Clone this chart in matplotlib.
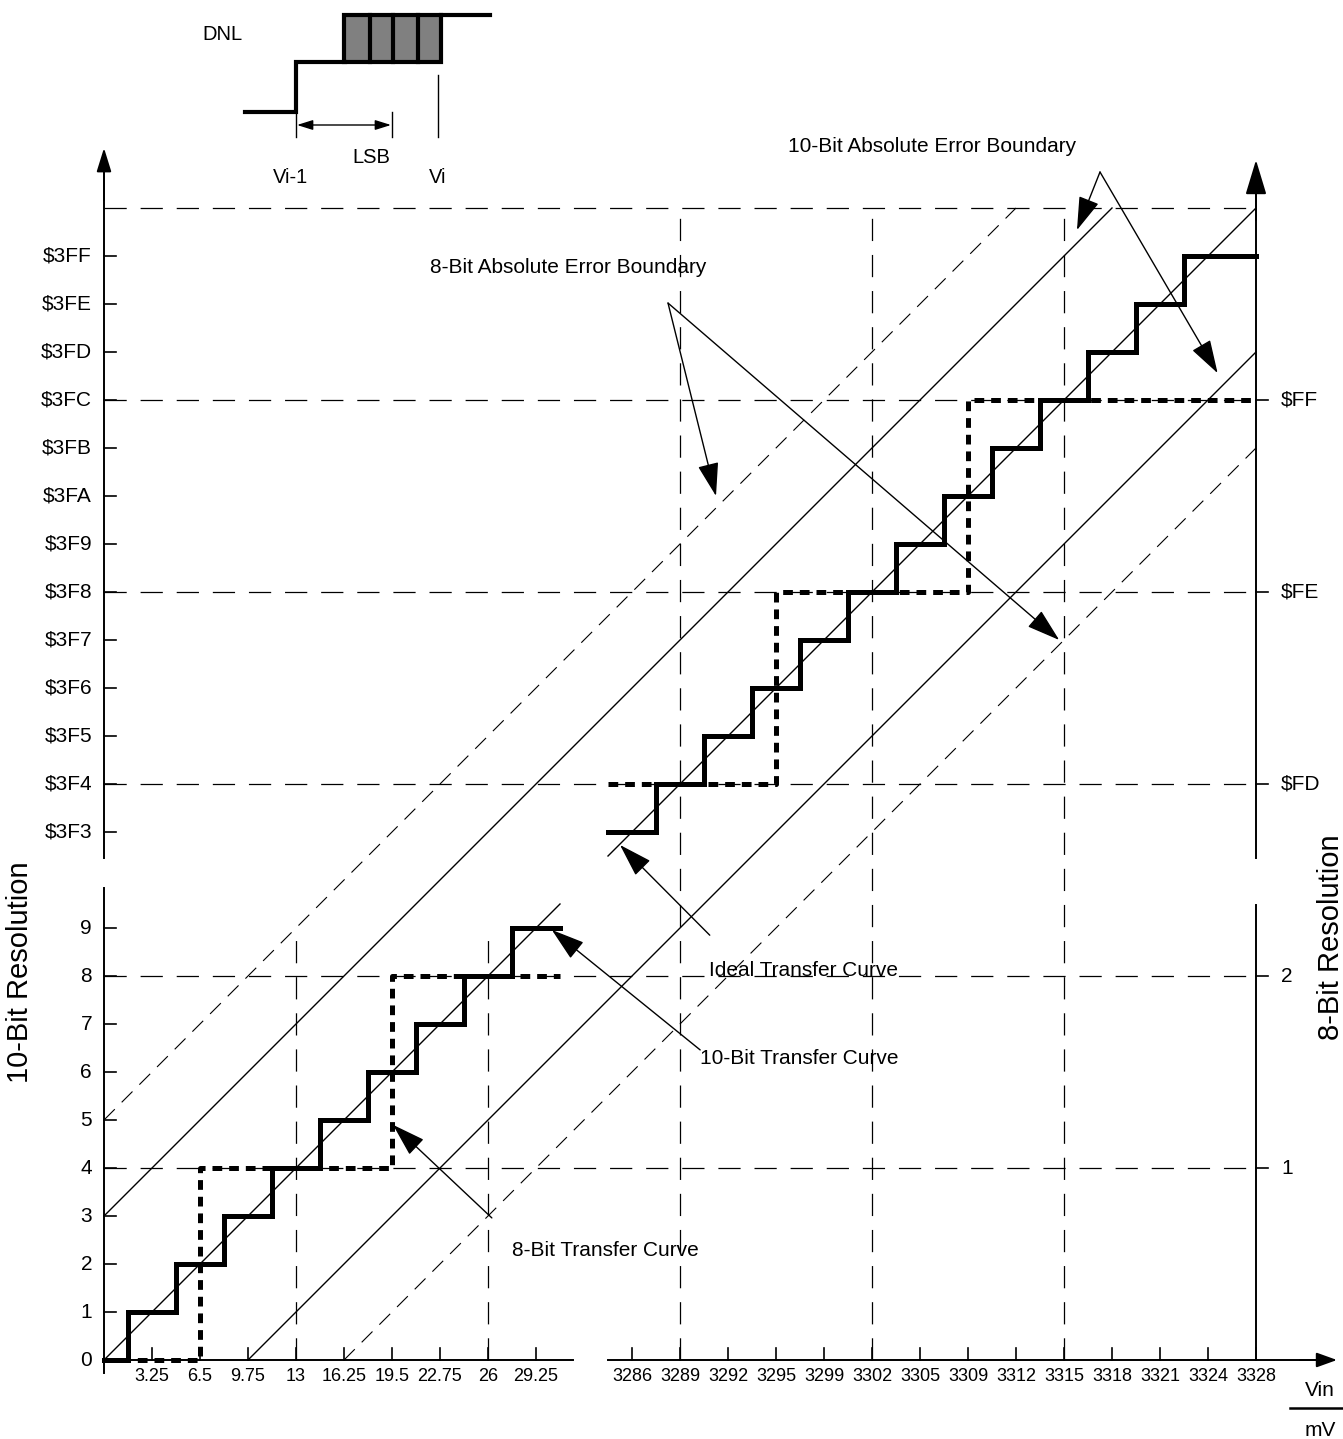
import matplotlib
matplotlib.use("Agg")
import matplotlib.pyplot as plt
from matplotlib.patches import Rectangle

plt.rcParams['font.family'] = ['Liberation Sans', 'DejaVu Sans']
plt.rcParams['lines.scale_dashes'] = False

# ---- data (x in LSB steps, y in 10-bit codes) ----
low_mv = ["3.25", "6.5", "9.75", "13", "16.25", "19.5", "22.75", "26", "29.25"]
high_mv = ["3286", "3289", "3292", "3295", "3299", "3302", "3305", "3309",
           "3312", "3315", "3318", "3321", "3324", "3328"]
low_codes = ["0", "1", "2", "3", "4", "5", "6", "7", "8", "9"]
high_codes = ["$3F3", "$3F4", "$3F5", "$3F6", "$3F7", "$3F8", "$3F9",
              "$3FA", "$3FB", "$3FC", "$3FD", "$3FE", "$3FF"]
low_8bit = ["1", "2"]
high_8bit = ["$FD", "$FE", "$FF"]

# transfer curves: step edges and output codes
tc10_low_edges = [0, 0.5, 1.5, 2.5, 3.5, 4.5, 5.5, 6.5, 7.5, 8.5, 9.5]
tc10_low_codes = [0, 1, 2, 3, 4, 5, 6, 7, 8, 9]
tc10_high_edges = [10.5, 11.5, 12.5, 13.5, 14.5, 15.5, 16.5, 17.5, 18.5,
                   19.5, 20.5, 21.5, 22.5, 24]
tc10_high_codes = [11, 12, 13, 14, 15, 16, 17, 18, 19, 20, 21, 22, 23]
tc8_low_edges = [0, 2, 6, 9.5]
tc8_low_codes = [0, 4, 8]
tc8_high_edges = [10.5, 14, 18, 24]
tc8_high_codes = [12, 16, 20]

err10 = 3   # 10-bit absolute error boundary (LSB)
err8 = 5    # 8-bit absolute error boundary (LSB)

# ---- layout ----
U = 48.0
def P(px, py):
    return ((px - 104) / U, (1360 - py) / U)

fig = plt.figure(figsize=(13.43, 14.39), dpi=100)
ax = fig.add_axes([0, 0, 1, 1])
ax.set_xlim(-104 / U, 1239 / U)
ax.set_ylim(-79 / U, 1360 / U)
ax.axis('off')

FS = 15      # annotations, y tick labels
FSX = 13     # x tick labels
FSL = 21     # axis titles
FSD = 14.5   # DNL inset
K = 'k'
grid_kw = dict(color=K, lw=0.9, dashes=(16, 10))
thin_dash = dict(color=K, lw=0.8, dashes=(11, 7))

low_x = list(range(1, len(low_mv) + 1))
high_x = list(range(11, 11 + len(high_mv)))
low_y = list(range(len(low_codes)))
high_y = list(range(11, 11 + len(high_codes)))
pos8_low = [4, 8]
pos8_high = [12, 16, 20]
top = 24

# grid lines
for y in pos8_low + pos8_high + [top]:
    ax.plot([0, top], [y, y], **grid_kw)
for x in [12, 16, 20]:
    ax.plot([x, x], [0, top], **grid_kw)
ax.plot([4, 4], [0, 9], **grid_kw)
ax.plot([8, 8], [0, 8.8], **grid_kw)

# error boundaries and ideal line
for off in (err10, -err10):
    x0 = max(0, -off)
    x1 = min(top, top - off)
    ax.plot([x0, x1], [x0 + off, x1 + off], color=K, lw=1.0)
for off in (err8, -err8):
    x0 = max(0, -off)
    x1 = min(top, top - off)
    ax.plot([x0, x1], [x0 + off, x1 + off], **thin_dash)
ax.plot([0, 9.5], [0, 9.5], color=K, lw=1.0)
ax.plot([10.5, top], [10.5, top], color=K, lw=1.0)

# transfer curves
for e, c in [(tc10_low_edges, tc10_low_codes), (tc10_high_edges, tc10_high_codes)]:
    ax.plot(e, c + [c[-1]], drawstyle='steps-post', color=K, lw=3.6,
            solid_joinstyle='miter')
for e, c in [(tc8_low_edges, tc8_low_codes), (tc8_high_edges, tc8_high_codes)]:
    ax.plot(e, c + [c[-1]], drawstyle='steps-post', color=K, lw=3.6,
            dashes=(7, 5))

# axes lines
axis_kw = dict(color=K, lw=1.4)
ax.plot([0, 0], [-0.27, 9.83], **axis_kw)
ax.plot([0, 0], [10.46, 24.9], **axis_kw)
ax.plot([top, top], [0, 9.48], **axis_kw)
ax.plot([top, top], [10.46, 24.5], **axis_kw)
ax.plot([0, 9.77], [0, 0], **axis_kw)
ax.plot([10.5, 25.3], [0, 0], **axis_kw)

def head(tip, start, length, width):
    ax.annotate('', xy=tip, xytext=start, xycoords='data',
                arrowprops=dict(arrowstyle=f'-|>,head_length={length},head_width={width}',
                                mutation_scale=10, lw=1.4, color=K,
                                shrinkA=0, shrinkB=0))

head(P(104, 148), P(104, 200), 1.45, 0.45)
head(P(1256, 160), P(1256, 220), 2.15, 0.65)
head(P(1337, 1360), P(1300, 1360), 1.25, 0.45)

# ticks and labels
tk = 0.25
for x, lab in zip(low_x + high_x, low_mv + high_mv):
    ax.plot([x, x], [0, tk], color=K, lw=1.2)
    ax.text(x, -0.17, lab, ha='center', va='top', fontsize=FSX)
for y, lab in zip(low_y + high_y, low_codes + high_codes):
    ax.plot([0, tk], [y, y], color=K, lw=1.2)
    ax.text(-0.25, y, lab.replace('$', r'\$'), ha='right', va='center', fontsize=FS)
for y, lab in zip(pos8_low + pos8_high, low_8bit + high_8bit):
    ax.plot([top, top + tk], [y, y], color=K, lw=1.2)
    ax.text(top + 0.52, y, lab.replace('$', r'\$'), ha='left', va='center', fontsize=FS)

ax.text(-1.75, 8.08, "10-Bit Resolution", rotation=90, ha='center', va='center', fontsize=FSL)
ax.text(25.56, 8.8, "8-Bit Resolution", rotation=90, ha='center', va='center', fontsize=FSL)
ax.text(*P(1320, 1390), "Vin", ha='center', va='center', fontsize=FS)
ax.plot([P(1290, 0)[0], P(1343, 0)[0]], [P(0, 1408)[1]] * 2, color=K, lw=1.8)
ax.text(*P(1320, 1430), "mV", ha='center', va='center', fontsize=FS)

# annotations
ann_kw = dict(arrowstyle='-|>,head_length=1.05,head_width=0.33', mutation_scale=20,
              lw=1.0, color=K, shrinkA=0, shrinkB=0)
def note(start, tip):
    ax.annotate('', xy=tip, xytext=start, arrowprops=ann_kw)

ax.text(9.67, 22.75, "8-Bit Absolute Error Boundary", ha='center', va='center', fontsize=FS)
note((11.75, 22.02), (12.75, 18.0))
note((11.75, 22.02), (19.9, 15.0))
ax.text(17.25, 25.29, "10-Bit Absolute Error Boundary", ha='center', va='center', fontsize=FS)
note((20.75, 24.75), (20.27, 23.54))
note((20.75, 24.75), (23.2, 20.56))
ax.text(12.6, 8.125, "Ideal Transfer Curve", ha='left', va='center', fontsize=FS)
note((12.62, 8.85), (10.75, 10.73))
ax.text(12.42, 6.29, "10-Bit Transfer Curve", ha='left', va='center', fontsize=FS)
note((12.42, 6.46), (9.33, 8.96))
ax.text(8.5, 2.29, "8-Bit Transfer Curve", ha='left', va='center', fontsize=FS)
note((8.08, 2.96), (6.02, 4.9))

# DNL inset
dnl_kw = dict(color=K, lw=3.0, solid_joinstyle='miter')
xs, ys = zip(*[P(245, 112), P(296, 112), P(296, 62), P(345, 62)])
ax.plot(xs, ys, **dnl_kw)
x0, y0 = P(344, 62)
x1, y1 = P(441, 15)
ax.add_patch(Rectangle((x0, y0), x1 - x0, y1 - y0, facecolor='#808080',
                       edgecolor=K, lw=3.0))
for px in (370, 393, 418):
    xs, ys = zip(P(px, 15), P(px, 62))
    ax.plot(xs, ys, **dnl_kw)
xs, ys = zip(P(441, 15), P(490, 15))
ax.plot(xs, ys, **dnl_kw)
for px, pa, pb in [(296, 112, 137), (392, 112, 137), (438, 75, 137)]:
    xs, ys = zip(P(px, pa), P(px, pb))
    ax.plot(xs, ys, color=K, lw=1.0)
ax.annotate('', xy=P(297, 125), xytext=P(391, 125),
            arrowprops=dict(arrowstyle='<|-|>,head_length=0.8,head_width=0.25',
                            mutation_scale=12, lw=1.0, color=K, shrinkA=0, shrinkB=0))
ax.text(*P(222, 35), "DNL", ha='center', va='center', fontsize=FSD)
ax.text(*P(371, 158), "LSB", ha='center', va='center', fontsize=FSD)
ax.text(*P(291, 178), "Vi-1", ha='center', va='center', fontsize=FSD)
ax.text(*P(438, 178), "Vi", ha='center', va='center', fontsize=FSD)

fig.savefig("out.png", dpi=100)
